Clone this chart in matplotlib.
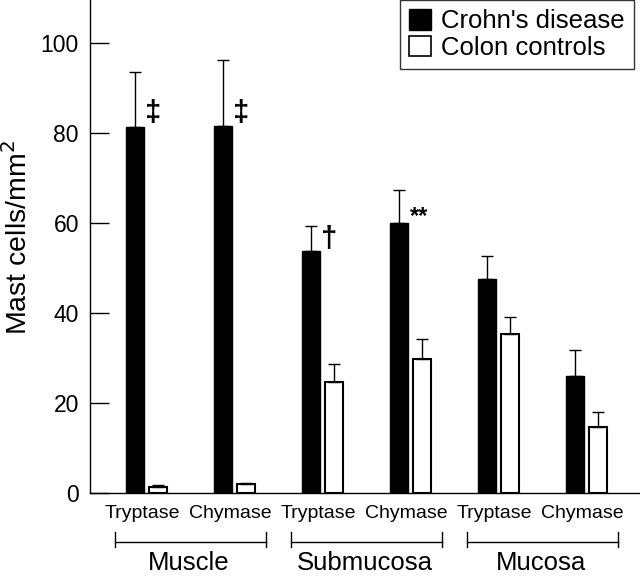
import numpy as np
import matplotlib.pyplot as plt
from matplotlib.patches import Patch

plt.rcParams['font.family'] = ['Liberation Sans', 'DejaVu Sans']

# --- data ---
enzymes = ["Tryptase", "Chymase", "Tryptase", "Chymase", "Tryptase", "Chymase"]
regions = ["Muscle", "Submucosa", "Mucosa"]
crohn_mean = [81.3, 81.5, 53.8, 60.1, 47.5, 26.0]
crohn_err = [12.3, 14.7, 5.5, 7.3, 5.2, 5.9]
control_mean = [1.4, 1.9, 24.7, 29.9, 35.4, 14.7]
control_err = [0.3, 0.3, 4.0, 4.4, 3.8, 3.4]
marks = ["\u2021", "\u2021", "\u2020", "**", "", ""]
mark_y = [84.5, 84.5, 56.5, 61.5, 0, 0]

x = np.arange(len(enzymes))
w = 0.205
off = 0.131

fig = plt.figure(figsize=(6.4, 5.77), dpi=100)
ax = fig.add_axes([90 / 640, 1 - 493 / 577, 550 / 640, 493 / 577])

ax.bar(x - off, crohn_mean, w, color="black", edgecolor="black",
       yerr=[np.zeros(6), crohn_err], capsize=4,
       error_kw=dict(elinewidth=1, capthick=1, ecolor="black"),
       label="Crohn's disease", zorder=2)
ax.bar(x + off, control_mean, w, color="white", edgecolor="black", linewidth=1.5,
       yerr=[np.zeros(6), control_err], capsize=4,
       error_kw=dict(elinewidth=1, capthick=1, ecolor="black"),
       label="Colon controls", zorder=2)

# significance marks
for i, (m, yv) in enumerate(zip(marks, mark_y)):
    if m:
        ax.text(i - 0.01, yv, m, ha="left", va="center",
                fontsize=21 if m != "**" else 17, fontweight="bold")

ax.set_xlim(-0.64, 5.61)
ax.set_ylim(0, 109.6)
ax.set_yticks([0, 20, 40, 60, 80, 100])
ax.tick_params(axis="y", direction="in", length=14, width=1, labelsize=16.5, pad=8)
ax.set_xticks([])
ax.spines["top"].set_visible(False)
ax.spines["right"].set_visible(False)
ax.spines["left"].set_linewidth(1)
ax.spines["bottom"].set_linewidth(1)
ax.set_ylabel("Mast cells/mm$^2$", fontsize=20.5, va="center")
ax.yaxis.set_label_coords(-0.131, 0.518)

# enzyme labels, brackets and region labels below the axis
trans = ax.get_xaxis_transform()
for i, lab in enumerate(enzymes):
    ax.text(i - 0.04, -0.041, lab, transform=trans, ha="center", va="center", fontsize=14)

for k, reg in enumerate(regions):
    c = 2 * k + 0.5
    lo, hi = c - 0.86, c + 0.86
    ax.plot([lo, hi], [-0.0994, -0.0994], transform=trans, color="black", lw=1, clip_on=False)
    for e in (lo, hi):
        ax.plot([e, e], [-0.079, -0.110], transform=trans, color="black", lw=1, clip_on=False)
    ax.text(c - 0.02, -0.156, reg, transform=trans, ha="center", va="baseline", fontsize=18.5)

handles = [Patch(facecolor="black", edgecolor="black"),
           Patch(facecolor="white", edgecolor="black", linewidth=1.2)]
leg = fig.legend(handles, ["Crohn's disease", "Colon controls"],
                 loc="upper right", bbox_to_anchor=(634 / 640, 1.0),
                 fontsize=18.5, frameon=True, fancybox=False, edgecolor="black",
                 handlelength=0.86, handleheight=0.86, handletextpad=0.4,
                 borderpad=0.35, labelspacing=0.1, borderaxespad=0.0)
leg.get_frame().set_linewidth(1)

fig.savefig("out.png", dpi=100)
